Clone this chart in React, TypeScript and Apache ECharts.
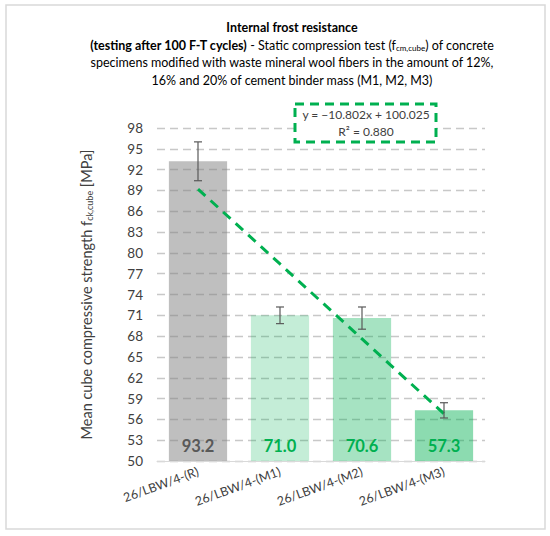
import React, { useEffect, useRef } from "react";
import * as echarts from "echarts";

const categories = ["26/LBW/4-(R)", "26/LBW/4-(M1)", "26/LBW/4-(M2)", "26/LBW/4-(M3)"];
const meanValues = [93.2, 71.0, 70.6, 57.3];
const errorValues = [2.8, 1.2, 1.6, 1.1];
const trendValues = [89.2, 78.4, 67.6, 56.8];
const barColors = [
  "rgba(128,128,128,0.5)",
  "rgba(0,176,80,0.23)",
  "rgba(0,176,80,0.35)",
  "rgba(0,176,80,0.45)",
];
const labelColors = ["#595959", "#00b050", "#00b050", "#00b050"];
const equationText = "y = −10.802x + 100.025";
const r2Text = "R² = 0.880";

const FONT = "Lato, 'Noto Sans', sans-serif";

export default function App() {
  const ref = useRef<HTMLDivElement>(null);
  useEffect(() => {
    if (!ref.current) return;
    const chart = echarts.init(ref.current, undefined, { renderer: "svg" });
    const option: any = {
      animation: false,
      backgroundColor: "#ffffff",
      textStyle: { fontFamily: FONT },
      grid: { left: 157, right: 65, top: 128, bottom: 75 },
      xAxis: {
        type: "category",
        data: categories,
        axisLine: { lineStyle: { color: "#d9d9d9", width: 1 } },
        axisTick: { show: false },
        axisLabel: {
          rotate: 20,
          color: "#404040",
          fontSize: 12.5,
          fontFamily: FONT,
          margin: 10,
          interval: 0,
        },
      },
      yAxis: {
        type: "value",
        min: 50,
        max: 98,
        interval: 3,
        name: "Mean cube compressive strength f{s|ck,cube} [MPa]",
        nameLocation: "middle",
        nameGap: 63,
        nameRotate: 90,
        nameTextStyle: {
          color: "#404040",
          fontSize: 14.5,
          fontFamily: FONT,
          rich: {
            s: { fontSize: 9, fontFamily: FONT, color: "#404040", padding: [6, 0, 0, 0], verticalAlign: "bottom" },
          },
        },
        axisLine: { show: false },
        axisTick: { show: false },
        axisLabel: { color: "#404040", fontSize: 13.5, fontFamily: FONT, margin: 14 },
        splitLine: { lineStyle: { color: "#c8c8c8", type: [8, 5], width: 1.3 } },
      },
      series: [
        {
          type: "bar",
          data: meanValues.map((v, i) => ({
            value: v,
            itemStyle: { color: barColors[i] },
            label: { color: labelColors[i] },
          })),
          barCategoryGap: "29%",
          z: 3,
          label: {
            show: true,
            position: "insideBottom",
            distance: 7,
            fontSize: 16.5,
            fontWeight: "bold",
            fontFamily: FONT,
            formatter: (p: any) => p.value.toFixed(1),
          },
        },
        {
          type: "line",
          data: trendValues,
          symbol: "none",
          z: 4,
          lineStyle: { color: "#00b050", width: 3, type: [10, 7] },
        },
        {
          type: "custom",
          z: 5,
          data: meanValues.map((v, i) => [i, v - errorValues[i], v + errorValues[i]]),
          renderItem: (params: any, api: any) => {
            const x = api.value(0);
            const lo = api.coord([x, api.value(1)]);
            const hi = api.coord([x, api.value(2)]);
            const w = 4;
            const style = { stroke: "#595959", lineWidth: 1.2 };
            return {
              type: "group",
              children: [
                { type: "line", shape: { x1: lo[0], y1: lo[1], x2: hi[0], y2: hi[1] }, style },
                { type: "line", shape: { x1: lo[0] - w, y1: lo[1], x2: lo[0] + w, y2: lo[1] }, style },
                { type: "line", shape: { x1: hi[0] - w, y1: hi[1], x2: hi[0] + w, y2: hi[1] }, style },
              ],
            };
          },
        },
      ],
      graphic: [
        {
          type: "rect",
          shape: { x: 6, y: 5, width: 539, height: 524 },
          style: { fill: "none", stroke: "#d9d9d9", lineWidth: 1.5 },
          silent: true,
        },
        {
          type: "text",
          x: 292,
          y: 27,
          style: {
            text: "Internal frost resistance",
            textAlign: "center",
            textVerticalAlign: "middle",
            fontSize: 12.5,
            fontWeight: "bold",
            fontFamily: FONT,
            fill: "#000",
          },
        },
        {
          type: "text",
          x: 292,
          y: 45,
          style: {
            text: "{b|(testing after 100 F-T cycles)}{n| - Static compression test (f}{s|cm,cube}{n|) of concrete}",
            textAlign: "center",
            textVerticalAlign: "middle",
            rich: {
              b: { fontSize: 12.5, fontWeight: "bold", fontFamily: FONT, color: "#000" },
              n: { fontSize: 12.5, fontFamily: FONT, color: "#000" },
              s: { fontSize: 8, fontFamily: FONT, color: "#000", padding: [6, 0, 0, 0], verticalAlign: "bottom" },
            },
          },
        },
        {
          type: "text",
          x: 292,
          y: 62,
          style: {
            text: "specimens modified with waste mineral wool fibers in the amount of 12%,",
            textAlign: "center",
            textVerticalAlign: "middle",
            fontSize: 12.5,
            fontFamily: FONT,
            fill: "#000",
          },
        },
        {
          type: "text",
          x: 292,
          y: 80,
          style: {
            text: "16% and 20% of cement binder mass (M1, M2, M3)",
            textAlign: "center",
            textVerticalAlign: "middle",
            fontSize: 12.5,
            fontFamily: FONT,
            fill: "#000",
          },
        },
        {
          type: "rect",
          z: 10,
          shape: { x: 295, y: 104, width: 141, height: 38 },
          style: { fill: "#ffffff", stroke: "#00b050", lineWidth: 3, lineDash: [9, 6] },
        },
        {
          type: "text",
          z: 11,
          x: 366,
          y: 114,
          style: {
            text: equationText,
            textAlign: "center",
            textVerticalAlign: "middle",
            fontSize: 12,
            fontFamily: FONT,
            fill: "#404040",
          },
        },
        {
          type: "text",
          z: 11,
          x: 366,
          y: 131,
          style: {
            text: r2Text,
            textAlign: "center",
            textVerticalAlign: "middle",
            fontSize: 12,
            fontFamily: FONT,
            fill: "#404040",
          },
        },
      ],
    };
    chart.setOption(option);
    return () => chart.dispose();
  }, []);
  return (
    <div
      ref={ref}
      style={{ position: "fixed", left: 0, top: 0, width: 550, height: 536 }}
    />
  );
}
